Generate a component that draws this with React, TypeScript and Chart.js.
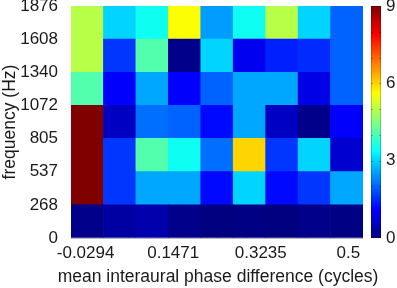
import React, { useEffect, useRef } from "react";
import { Chart, registerables } from "chart.js";

Chart.register(...registerables);

// Column centres (mean interaural phase difference, cycles)
const phaseBins = ["0", "0.0588", "0.1176", "0.1765", "0.2353", "0.2941", "0.3529", "0.4118", "0.4706"];
// Column edges and labelled x ticks
const xEdges = [-0.0294, 0.0294, 0.0882, 0.1471, 0.2059, 0.2647, 0.3235, 0.3824, 0.4412, 0.5];
const xTickValues = [-0.0294, 0.1471, 0.3235, 0.5];
// Frequency band edges (Hz) = y ticks
const yEdges = [0, 268, 537, 805, 1072, 1340, 1608, 1876];
// Colour scale
const colorMin = 0;
const colorMax = 9;
const colorTicks = [0, 3, 6, 9];

const xTitle = "mean interaural phase difference (cycles)";
const yTitle = "frequency (Hz)";

// Cell values per frequency band (bottom to top)
const band0to268 = [0.1, 0.3, 0.4, 0.1, 0.0, 0.05, 0.0, 0.1, 0.05];
const band268to537 = [9, 1.6, 2.6, 2.6, 1.2, 3.0, 1.2, 1.6, 2.6];
const band537to805 = [9, 1.6, 4.1, 3.5, 2.1, 6.0, 1.6, 3.0, 0.7];
const band805to1072 = [9, 0.6, 2.1, 2.0, 1.2, 2.6, 0.6, 0.1, 1.1];
const band1072to1340 = [4.1, 1.1, 2.6, 1.1, 2.0, 2.6, 2.6, 0.9, 2.0];
const band1340to1608 = [5.0, 1.6, 4.1, 0.1, 3.0, 1.0, 1.4, 1.5, 2.0];
const band1608to1876 = [5.0, 3.0, 3.5, 5.6, 2.5, 3.5, 5.0, 3.0, 2.0];

const bands = [
  band0to268,
  band268to537,
  band537to805,
  band805to1072,
  band1072to1340,
  band1340to1608,
  band1608to1876,
];

const clamp = (v: number) => Math.max(0, Math.min(1, v));
function jet(v: number): string {
  const t = clamp((v - colorMin) / (colorMax - colorMin));
  const r = clamp(1.5 - Math.abs(4 * t - 3));
  const g = clamp(1.5 - Math.abs(4 * t - 2));
  const b = clamp(1.5 - Math.abs(4 * t - 1));
  return `rgb(${Math.round(r * 255)},${Math.round(g * 255)},${Math.round(b * 255)})`;
}

const FONT = "'Liberation Sans', Arial, sans-serif";
const TEXT = "#1a1a1a";

const colorbarPlugin = {
  id: "colorbar",
  afterDraw(chart: any) {
    const s = chart.scales.cb;
    const ctx = chart.ctx as CanvasRenderingContext2D;
    const x0 = s.left + 8;
    const w = 10;
    const yTop = s.getPixelForValue(colorMax);
    const yBot = s.getPixelForValue(colorMin);
    const g = ctx.createLinearGradient(0, yBot, 0, yTop);
    for (let i = 0; i <= 64; i++) {
      const f = i / 64;
      g.addColorStop(f, jet(colorMin + f * (colorMax - colorMin)));
    }
    ctx.save();
    ctx.fillStyle = g;
    ctx.fillRect(x0, yTop, w, yBot - yTop);
    ctx.strokeStyle = "rgba(0,0,0,0.25)";
    ctx.lineWidth = 1;
    for (let v = colorMin + 1; v < colorMax; v++) {
      const y = Math.round(s.getPixelForValue(v)) + 0.5;
      ctx.beginPath();
      ctx.moveTo(x0, y);
      ctx.lineTo(x0 + 2, y);
      ctx.moveTo(x0 + w - 2, y);
      ctx.lineTo(x0 + w, y);
      ctx.stroke();
    }
    ctx.strokeStyle = "rgba(0,0,0,0.2)";
    ctx.strokeRect(x0 + 0.5, yTop + 0.5, w - 1, yBot - yTop - 1);

    // x-axis title (drawn without width compression)
    const ca = chart.chartArea;
    ctx.fillStyle = TEXT;
    ctx.font = `17.5px ${FONT}`;
    ctx.textAlign = "center";
    ctx.textBaseline = "middle";
    ctx.fillText(xTitle, (ca.left + ca.right) / 2 + 1, chart.height - 11);
    ctx.restore();
  },
};

export default function App() {
  const ref = useRef<HTMLCanvasElement | null>(null);

  useEffect(() => {
    if (!ref.current) return;
    Chart.defaults.font.family = FONT;
    Chart.defaults.font.size = 17;
    Chart.defaults.color = TEXT;

    const datasets = bands.map((vals, r) => ({
      label: `${yEdges[r]}-${yEdges[r + 1]} Hz`,
      data: vals.map(() => [yEdges[r], yEdges[r + 1]]),
      backgroundColor: vals.map((v) => jet(v)),
      borderWidth: 0,
      grouped: false,
      barPercentage: 1,
      categoryPercentage: 1,
    }));

    const chart = new Chart(ref.current, {
      type: "bar",
      data: { labels: phaseBins, datasets: datasets as any },
      plugins: [colorbarPlugin],
      options: {
        animation: false,
        responsive: true,
        maintainAspectRatio: false,
        layout: { padding: { top: 6, left: 0, right: 0, bottom: 0 } },
        plugins: { legend: { display: false }, tooltip: { enabled: false } },
        scales: {
          x: {
            type: "category",
            display: false,
          },
          x2: {
            type: "linear",
            position: "bottom",
            min: xEdges[0],
            max: xEdges[xEdges.length - 1],
            z: 1,
            border: { display: false },
            grid: { display: true, color: "rgba(0,0,0,0.28)", lineWidth: 1, drawTicks: false },
            afterBuildTicks: (s: any) => {
              s.ticks = xEdges.map((v) => ({ value: v }));
            },
            ticks: {
              autoSkip: false,
              maxRotation: 0,
              minRotation: 0,
              padding: 5,
              font: { size: 17, family: FONT },
              color: TEXT,
              callback: (value: any) => {
                const hit = xTickValues.find((t) => Math.abs(t - Number(value)) < 1e-6);
                return hit === undefined ? "" : String(hit);
              },
            },
            title: { display: false },
            afterFit: (s: any) => {
              s.height = 50;
              s.paddingLeft = 0;
              s.paddingRight = 0;
            },
          } as any,
          y: {
            type: "linear",
            position: "left",
            min: yEdges[0],
            max: yEdges[yEdges.length - 1],
            z: 1,
            border: { display: false },
            grid: { display: true, color: "rgba(0,0,0,0.28)", lineWidth: 1, drawTicks: false },
            afterBuildTicks: (s: any) => {
              s.ticks = yEdges.map((v) => ({ value: v }));
            },
            ticks: {
              autoSkip: false,
              padding: 13,
              font: { size: 17, family: FONT },
              color: TEXT,
              callback: (value: any) => String(value),
            },
            title: {
              display: true,
              text: yTitle,
              font: { size: 17.5, family: FONT },
              color: TEXT,
              padding: { top: 0, bottom: 0 },
            },
            afterFit: (s: any) => {
              s.width = 71;
              s.paddingTop = 0;
              s.paddingBottom = 0;
            },
          } as any,
          cb: {
            type: "linear",
            position: "right",
            min: colorMin,
            max: colorMax,
            border: { display: false },
            grid: { display: false, drawTicks: false },
            afterBuildTicks: (s: any) => {
              s.ticks = colorTicks.map((v) => ({ value: v }));
            },
            ticks: {
              autoSkip: false,
              padding: 23,
              font: { size: 17, family: FONT },
              color: TEXT,
              callback: (value: any) => String(value),
            },
            afterFit: (s: any) => {
              s.width = 34;
              s.paddingTop = 0;
              s.paddingBottom = 0;
            },
          } as any,
        },
      },
    });
    return () => chart.destroy();
  }, []);

  return (
    <div style={{ position: "absolute", left: 0, top: 0, width: 397, height: 288, background: "#fff" }}>
      <canvas ref={ref} />
    </div>
  );
}
